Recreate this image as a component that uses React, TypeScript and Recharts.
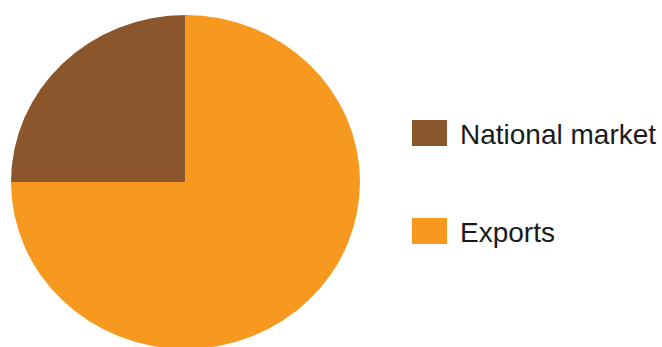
import { PieChart, Pie, Cell, Legend } from 'recharts';

const labels = ['National market', 'Exports'];
const shares = [25, 75];
const colors = ['#8B562B', '#F7991F'];

const data = labels.map((name, i) => ({ name, value: shares[i] }));

function LegendBox() {
  return (
    <div style={{ fontFamily: '"Liberation Sans", Arial, sans-serif' }}>
      {labels.map((name, i) => (
        <div key={name} style={{ display: 'flex', alignItems: 'center', height: 26, marginBottom: i === 0 ? 72 : 0 }}>
          <span style={{ width: 35, height: 26, background: colors[i], display: 'inline-block', flexShrink: 0 }} />
          <span style={{ marginLeft: 13, fontSize: 28, color: '#1a1a1a', lineHeight: '26px', whiteSpace: 'nowrap', marginTop: 3 }}>{name}</span>
        </div>
      ))}
    </div>
  );
}

export default function App() {
  return (
    <div style={{ position: 'fixed', left: 0, top: 0, width: 662, height: 347, background: '#fff', overflow: 'hidden' }}>
      <style>{`.recharts-pie { transform: scaleY(0.957); transform-origin: 185.5px 182px; }`}</style>
      <PieChart width={662} height={347} margin={{ top: 0, right: 0, bottom: 0, left: 0 }}>
        <Pie
          data={data}
          dataKey="value"
          nameKey="name"
          cx={185.5}
          cy={182}
          outerRadius={174.5}
          startAngle={90}
          endAngle={450}
          stroke="none"
          isAnimationActive={false}
        >
          {data.map((d, i) => (
            <Cell key={d.name} fill={colors[i]} />
          ))}
        </Pie>
        <Legend
          layout="vertical"
          content={() => <LegendBox />}
          wrapperStyle={{ left: 412, top: 120, width: 250 }}
        />
      </PieChart>
    </div>
  );
}
